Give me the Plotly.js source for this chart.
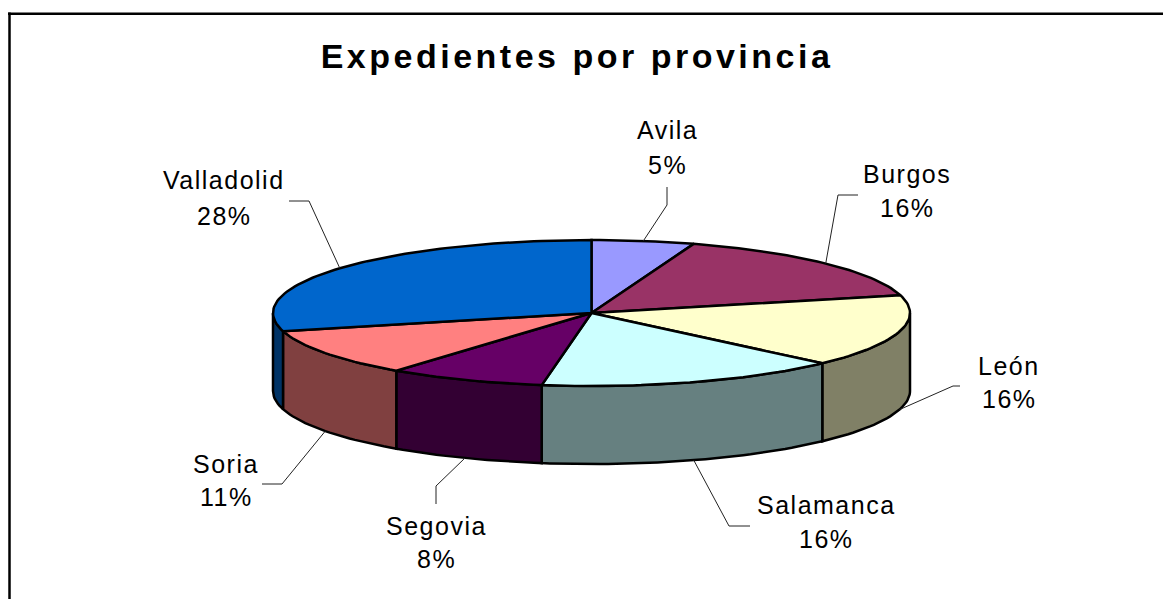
<!DOCTYPE html>
<html>
<head>
<meta charset="utf-8">
<script src="https://cdn.plot.ly/plotly-3.0.1.min.js"></script>
<style>
html,body{margin:0;padding:0;background:#fff;overflow:hidden}
#chart{width:1163px;height:599px}
.annotation-text{letter-spacing:1.5px}
.gtitle{letter-spacing:3.5px}
</style>
</head>
<body>
<div id="chart"></div>
<script>
// Data
var categories = ["Avila","Burgos","León","Salamanca","Segovia","Soria","Valladolid"];
var shares = [5.2,15.9,16.0,15.4,8.0,10.5,29.0];
var percentLabels = ["5%","16%","16%","16%","8%","11%","28%"];
var topColors = ["#9999FF","#993366","#FFFFCC","#CCFFFF","#660066","#FF8080","#0066CC"];
var sideColors = ["#4D4D80","#4D1A33","#808066","#668080","#330033","#804040","#003366"];
var titleText = "Expedientes por provincia";

// Layout of the drawing, in the 1163x599 pixel space of the axes
var cx = 591.5, cy = 313, rx = 318.5, ry = 73, depth = 78;
var nameY = [130,174,366,505,526,464,180];
var pctY  = [165,208,399,539,559,497,216];
var labelX = [667,907,1009,826,436,226,224];
var elbowX = [[667,667],[838,858],[953,960],[729,750],[436,436],[282,262],[309,289]];
var elbowY = [[205,187],[195,195],[386,386],[526,526],[486,504],[484,484],[201,201]];

function px(a){return cx + rx*Math.sin(a*Math.PI/180);}
function py(a){return cy - ry*Math.cos(a*Math.PI/180);}
function arc(a0,a1){
  var out=[],n=Math.max(2,Math.ceil(Math.abs(a1-a0)/1.5));
  for(var i=0;i<=n;i++) out.push(a0+(a1-a0)*i/n);
  return out;
}
var total = shares.reduce(function(s,v){return s+v;},0);
var starts=[],ends=[],acc=0;
shares.forEach(function(v){starts.push(acc/total*360);acc+=v;ends.push(acc/total*360);});

var traces=[];
// Side walls, only where the rim faces the viewer
categories.forEach(function(c,i){
  var a0=Math.max(starts[i],90),a1=Math.min(ends[i],270);
  if(a1<=a0) return;
  var as=arc(a0,a1);
  var xs=as.map(px),ys=as.map(py);
  var xb=xs.slice().reverse(),yb=ys.map(function(y){return y+depth;}).reverse();
  traces.push({type:"scatter",mode:"lines",fill:"toself",fillcolor:sideColors[i],
    x:xs.concat(xb,[xs[0]]),y:ys.concat(yb,[ys[0]]),
    line:{color:"#000",width:2.5},hoverinfo:"skip",showlegend:false});
});
// Top faces
categories.forEach(function(c,i){
  var as=arc(starts[i],ends[i]);
  traces.push({type:"scatter",mode:"lines",fill:"toself",fillcolor:topColors[i],name:c,
    x:[cx].concat(as.map(px),[cx]),y:[cy].concat(as.map(py),[cy]),
    line:{color:"#000",width:2.5},hoverinfo:"skip",showlegend:false});
});
// Leader lines start at the middle of each slice's rim
categories.forEach(function(c,i){
  var m=(starts[i]+ends[i])/2;
  var front=m>90&&m<270;
  traces.push({type:"scatter",mode:"lines",
    x:[px(m),elbowX[i][0],elbowX[i][1]],
    y:[py(m)+(front?depth:0),elbowY[i][0],elbowY[i][1]],
    line:{color:"#222",width:1},hoverinfo:"skip",showlegend:false});
});

var annotations=[];
categories.forEach(function(c,i){
  annotations.push({x:labelX[i],y:nameY[i],text:c,xref:"x",yref:"y",showarrow:false,xanchor:"center",yanchor:"middle"});
  annotations.push({x:labelX[i],y:pctY[i],text:percentLabels[i],xref:"x",yref:"y",showarrow:false,xanchor:"center",yanchor:"middle"});
});

var hidden={visible:false,fixedrange:true};
var layout={
  width:1163,height:599,
  margin:{l:0,r:0,t:0,b:0},
  paper_bgcolor:"#fff",plot_bgcolor:"#fff",
  font:{family:"'Liberation Sans',Arial,sans-serif",size:25,color:"#000"},
  title:{text:"<b>"+titleText+"</b>",x:577/1163,xref:"paper",xanchor:"center",
    y:1-56/599,yref:"paper",yanchor:"middle",
    font:{family:"'Liberation Sans',Arial,sans-serif",size:34,color:"#000"}},
  xaxis:Object.assign({range:[0,1163]},hidden),
  yaxis:Object.assign({range:[599,0]},hidden),
  showlegend:false,
  annotations:annotations,
  shapes:[
    {type:"line",xref:"x",yref:"y",x0:9.5,x1:9.5,y0:12.5,y1:599,line:{color:"#000",width:2.5}},
    {type:"line",xref:"x",yref:"y",x0:8,x1:1163,y0:13.8,y1:13.8,line:{color:"#000",width:2.5}}
  ]
};
Plotly.newPlot("chart",traces,layout,{displayModeBar:false,responsive:false});
</script>
</body>
</html>
